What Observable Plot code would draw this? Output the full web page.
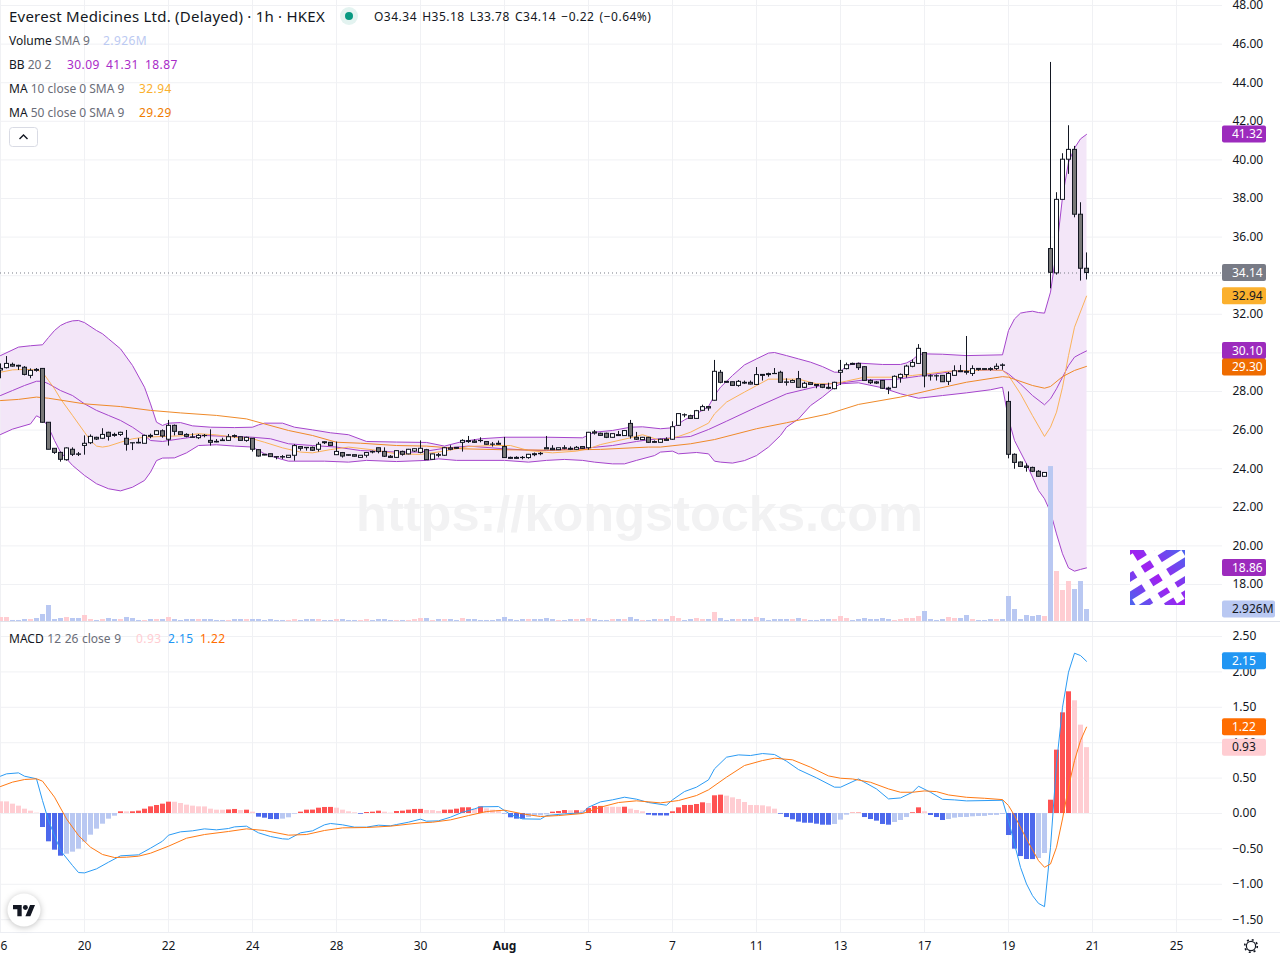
<!DOCTYPE html>
<html><head><meta charset="utf-8">
<script src="https://cdn.jsdelivr.net/npm/d3@7"></script>
<script src="https://cdn.jsdelivr.net/npm/@observablehq/plot@0.6"></script>
<style>
html,body{margin:0;padding:0;background:#fff}
#chart{position:relative;width:1280px;height:960px;overflow:hidden;font-family:"Noto Sans",sans-serif;color:#131722}
#chart>svg,#chart>figure{position:absolute;left:0}
.lg{position:absolute;white-space:nowrap;font-size:12px;line-height:16px;color:#131722}
.lg i{font-style:normal;color:#6a6d78}
.lg b{font-weight:400;position:absolute;top:0;letter-spacing:.4px}
</style></head><body><div id="chart"></div>
<script>
const opens=[29.09,29.21,29.38,29.33,29.23,28.81,29.12,29.17,26.38,25.03,
24.82,24.44,24.98,24.74,25.18,25.32,25.60,25.55,25.86,25.75,
25.75,25.55,25.32,25.34,25.29,25.70,25.75,25.94,25.50,26.22,
25.89,25.75,25.62,25.58,25.70,25.44,25.39,25.46,25.44,25.69,
25.63,25.44,25.55,24.96,24.72,24.75,24.60,24.60,24.56,24.67,
25.12,25.08,25.08,24.98,25.37,25.34,24.70,24.81,24.70,24.70,
24.56,24.67,24.87,25.06,24.87,24.62,24.56,24.87,24.74,24.89,
24.82,24.96,24.46,24.70,24.67,25.05,25.08,25.34,25.43,25.41,
25.44,25.38,25.25,25.29,25.12,24.56,24.56,24.56,24.55,24.75,
24.77,25.06,25.03,24.96,25.06,25.03,24.98,25.12,25.06,25.88,
25.81,25.81,25.60,25.74,25.69,26.32,25.60,25.48,25.60,25.38,
25.34,25.50,25.50,26.22,26.77,26.72,26.58,27.00,27.19,27.52,
28.97,28.50,28.48,28.29,28.45,28.45,28.34,28.86,28.90,28.91,
28.97,28.47,28.45,28.64,28.19,28.43,28.34,28.34,28.19,28.12,
28.97,29.16,29.43,29.43,29.26,28.55,28.47,28.55,28.15,28.19,
28.69,28.85,29.28,29.43,29.99,28.79,28.79,28.81,28.50,28.81,
29.05,29.02,28.91,29.17,29.16,29.16,29.17,29.35,27.46,24.72,
24.32,24.11,24.04,23.84,23.58,35.38,34.12,37.93,40.01,40.52,
37.16,34.36];
const highs=[29.43,29.81,29.47,29.36,29.29,29.17,29.19,29.17,26.38,25.03,
24.86,25.08,25.08,24.84,25.70,25.75,25.63,26.07,25.89,25.84,
25.89,25.98,25.32,25.55,25.74,25.79,25.98,26.01,26.50,26.26,
25.89,25.81,25.81,25.77,25.77,26.01,25.51,25.58,25.77,25.75,
25.63,25.63,25.55,24.98,24.72,24.75,24.60,24.68,24.67,25.24,
25.13,25.08,25.12,25.36,25.39,25.34,25.38,24.84,24.70,24.70,
24.67,24.84,24.91,25.06,25.08,24.68,24.93,24.91,25.00,25.03,
25.44,25.00,24.75,24.79,25.10,25.19,25.08,25.50,25.67,25.50,
25.60,25.39,25.36,25.43,25.62,24.60,24.62,24.63,24.74,24.81,
24.84,25.67,25.19,25.06,25.19,25.13,25.15,25.12,25.88,25.98,
25.84,25.84,25.79,25.93,25.98,26.50,25.88,25.62,25.62,25.44,
25.53,25.60,26.43,26.84,26.84,26.77,27.02,27.29,27.22,29.61,
29.09,28.52,28.48,28.57,28.54,28.54,29.24,28.86,28.95,29.19,
29.05,28.66,28.60,29.04,28.48,28.45,28.34,28.34,28.43,28.48,
29.61,29.47,29.47,29.47,29.29,28.60,28.52,28.57,28.22,28.81,
28.91,29.36,29.64,30.43,29.99,28.86,28.86,28.81,28.98,29.33,
29.35,30.85,29.33,29.17,29.16,29.23,29.43,29.43,27.98,24.77,
24.35,24.25,24.08,23.90,23.80,45.05,38.30,40.32,41.77,40.70,
37.78,35.18];
const lows=[28.66,29.17,29.26,29.09,28.81,28.66,29.00,26.36,24.98,24.74,
24.34,24.39,24.63,24.63,24.70,25.25,25.46,25.51,25.43,25.63,
25.67,24.91,24.94,25.29,25.29,25.55,25.72,25.58,25.17,25.70,
25.72,25.60,25.60,25.51,25.60,25.17,25.34,25.41,25.41,25.58,
25.43,25.37,24.86,24.60,24.67,24.58,24.46,24.48,24.55,24.39,
24.91,24.91,24.89,24.86,25.25,25.15,24.68,24.55,24.65,24.60,
24.55,24.55,24.77,24.77,24.58,24.55,24.53,24.65,24.72,24.84,
24.77,24.43,24.43,24.56,24.63,24.93,25.01,24.86,25.31,25.31,
25.34,25.22,25.12,25.22,24.53,24.49,24.49,24.46,24.49,24.62,
24.67,25.00,24.94,24.94,24.98,24.94,24.94,25.00,24.96,25.74,
25.67,25.56,25.58,25.67,25.67,25.53,25.46,25.46,25.31,25.32,
25.32,25.41,25.46,26.19,26.64,26.57,26.57,26.96,26.98,27.50,
28.40,28.43,28.28,28.22,28.36,28.34,28.31,28.54,28.74,28.90,
28.43,28.28,28.43,28.17,28.15,28.33,28.14,28.15,28.09,28.09,
28.31,29.12,29.36,29.09,28.54,28.36,28.36,28.12,27.84,28.17,
28.43,28.69,29.23,29.42,28.19,28.54,28.54,28.47,28.31,28.78,
28.98,28.85,28.78,29.05,29.10,29.05,29.09,29.10,24.51,23.97,
24.06,23.82,23.80,23.56,23.56,33.32,34.03,37.92,39.25,37.00,
33.72,33.78];
const closes=[29.17,29.43,29.29,29.29,28.86,29.07,29.07,26.38,24.98,24.82,
24.46,25.05,24.72,24.72,25.29,25.65,25.51,25.75,25.65,25.70,
25.86,25.24,25.31,25.31,25.70,25.65,25.94,25.67,26.22,25.91,
25.75,25.65,25.60,25.70,25.69,25.34,25.36,25.43,25.63,25.65,
25.44,25.60,24.98,24.63,24.68,24.60,24.58,24.58,24.67,25.17,
25.03,25.06,24.93,25.24,25.32,25.18,24.87,24.63,24.67,24.62,
24.67,24.81,24.84,24.86,24.62,24.56,24.91,24.72,24.98,25.01,
25.03,24.44,24.74,24.67,25.06,24.98,25.03,25.44,25.38,25.34,
25.43,25.24,25.24,25.24,24.55,24.51,24.51,24.55,24.72,24.70,
24.75,25.00,24.96,25.06,25.03,24.98,25.08,25.03,25.86,25.82,
25.70,25.60,25.79,25.69,25.95,25.67,25.50,25.60,25.34,25.34,
25.50,25.44,26.15,26.83,26.76,26.58,26.98,27.19,27.12,29.02,
28.45,28.45,28.29,28.50,28.41,28.36,28.85,28.81,28.85,28.90,
28.45,28.45,28.54,28.19,28.40,28.34,28.29,28.19,28.14,28.45,
29.07,29.36,29.38,29.21,28.55,28.43,28.41,28.14,28.10,28.76,
28.86,29.29,29.48,30.21,28.78,28.78,28.78,28.48,28.91,29.05,
29.00,28.97,29.16,29.12,29.12,29.12,29.28,29.33,24.72,24.30,
24.09,24.04,23.84,23.58,23.78,34.15,37.93,40.01,40.52,37.16,
34.36,34.14];
const volumesM=[.98,.98,.25,.25,.49,.49,.73,1.71,3.9,.49,
.73,.98,.73,.73,1.46,.49,.25,.49,.73,.49,
.49,.98,.73,.25,.25,.49,.49,.49,.98,.49,
.25,.49,.49,.49,.49,.49,.25,.25,.25,.49,
.49,.49,.49,.49,.25,.49,.25,.25,.25,.49,
.25,.49,.49,.49,.25,.25,.49,.49,.25,.25,
.25,.49,.25,.49,.49,.25,.25,.25,.25,.49,
.73,.73,.25,.49,.49,.49,.25,.73,.49,.49,
.25,.25,.25,.49,.98,.49,.25,.49,.49,.49,
.49,.73,.49,.25,.25,.49,.49,.49,.73,.49,
.25,.25,.49,.49,.49,.98,.49,.25,.25,.49,
.49,.49,1.22,.73,.25,.49,.73,.49,.49,2.2,
.73,.25,.49,.49,.49,.49,.98,.73,.25,.49,
.49,.49,.49,.73,.49,.25,.25,.49,.49,.49,
1.22,.73,.25,.49,.73,.49,.49,.73,.49,.25,
.49,.73,.73,1.22,2.44,.49,.25,.49,.98,.73,
.73,1.46,.49,.25,.25,.49,.49,.49,6.1,2.93,
.49,1.46,1.22,1.46,1.22,37.8,12.2,7.56,9.76,7.8,
9.76,2.926];
const macdHist=[.165,.164,.132,.104,.061,.033,.005,-.198,-.4,-.518,
-.603,-.575,-.546,-.504,-.405,-.306,-.221,-.151,-.08,-.038,
.024,.023,.024,.033,.061,.094,.113,.132,.16,.159,
.141,.118,.104,.094,.093,.061,.047,.046,.05,.057,
.042,.047,.019,-.052,-.066,-.085,-.086,-.08,-.061,-.01,
.019,.047,.048,.075,.085,.086,.075,.047,.024,.01,
-.01,.014,.019,.033,.019,.005,.028,.033,.047,.057,
.058,.042,.041,.028,.047,.048,.061,.08,.081,.061,
.094,.066,.047,.042,-.005,-.061,-.08,-.081,-.057,-.038,
-.033,-.019,.019,.028,.042,.038,.04,.039,.071,.099,
.1,.089,.088,.087,.089,.061,.042,.024,-.024,-.033,
-.034,-.035,.024,.08,.113,.114,.127,.151,.141,.25,
.259,.245,.221,.198,.155,.113,.112,.108,.094,.061,
-.01,-.057,-.089,-.122,-.137,-.138,-.151,-.165,-.166,-.155,
-.094,-.024,.005,.006,-.057,-.085,-.108,-.155,-.165,-.127,
-.099,-.057,.01,.08,.024,-.028,-.057,-.099,-.085,-.066,
-.057,-.056,-.047,-.042,-.041,-.028,-.027,-.014,-.311,-.504,
-.608,-.65,-.651,-.636,-.565,.188,.895,1.422,1.719,1.592,
1.248,.93];
const bbUpper=[[0,29.86],[3,30.30],[5,30.37],[7,30.42],[8,30.8],[9,31.16],[10,31.42],[11,31.57],[12,31.66],[13,31.68],[14,31.57],[16,31.16],[17,30.99],[18,30.73],[20,30.21],[22,29.35],[24,28.22],[25,27.36],[26,26.41],[27,26.24],[28,26.36],[30,26.39],[32,26.22],[35,26.15],[39,26.13],[42,26.15],[43,26.27],[44,26.36],[47,26.36],[49,26.15],[52,26.01],[55,25.86],[58,25.76],[61,25.41],[66,25.38],[71,25.36],[74,25.17],[77,25.41],[80,25.55],[84,25.63],[91,25.63],[97,25.60],[99,25.89],[102,25.98],[105,26.15],[107,26.17],[110,26.07],[112,26.12],[114,26.53],[116,26.84],[118,27.22],[119,27.79],[120,28.22],[122,28.83],[124,29.38],[126,29.69],[128,29.99],[129,30.02],[131,29.86],[133,29.69],[135,29.52],[137,29.29],[139,29.00],[140,29.00],[141,29.35],[143,29.47],[147,29.40],[150,29.40],[151,29.48],[152,29.64],[153,29.92],[154,29.95],[157,29.93],[161,29.86],[167,29.90],[168,31.16],[169,31.76],[170,32.06],[171,32.12],[172,32.16],[173,32.09],[174,32.06],[175,33.15],[176,35.31],[177,38.07],[178,39.88],[179,40.61],[180,41.09],[181,41.32]];
const bbLower=[[0,25.77],[2,26.05],[5,26.32],[6,26.74],[7,26.58],[8,26.15],[9,25.46],[10,24.86],[12,24.17],[14,23.65],[16,23.22],[18,22.96],[20,22.85],[22,23.04],[24,23.39],[25,23.82],[26,24.42],[27,24.55],[29,24.56],[31,24.82],[33,25.20],[36,25.24],[39,25.17],[42,25.12],[44,24.77],[46,24.56],[48,24.39],[54,24.39],[58,24.34],[61,24.43],[66,24.37],[71,24.43],[73,24.51],[76,24.43],[84,24.43],[88,24.34],[91,24.43],[94,24.48],[97,24.43],[99,24.34],[102,24.25],[104,24.25],[106,24.43],[109,24.68],[110,24.86],[112,24.91],[113,24.77],[116,24.84],[118,24.77],[119,24.39],[120,24.34],[122,24.29],[124,24.42],[126,24.68],[128,25.12],[130,25.72],[131,26.15],[133,26.58],[135,27.27],[137,27.71],[139,28.22],[140,28.40],[143,28.45],[147,28.19],[150,27.88],[153,27.65],[157,27.79],[161,27.93],[165,28.09],[167,28.22],[168,26.58],[169,25.46],[171,24.25],[173,22.87],[174,22.44],[175,21.75],[176,20.62],[177,19.59],[178,18.86],[179,18.69],[180,18.78],[181,18.86]];
const bbBasis=[[0,27.79],[2,28.05],[4,28.31],[6,28.53],[7,28.53],[8,28.40],[10,28.05],[12,27.79],[14,27.36],[16,27.02],[18,26.76],[20,26.50],[22,26.15],[24,25.72],[25,25.46],[27,25.41],[30,25.55],[34,25.72],[38,25.67],[42,25.63],[45,25.55],[48,25.29],[52,25.20],[56,25.12],[60,24.94],[66,24.86],[70,24.86],[74,25.06],[78,25.17],[84,25.03],[88,24.96],[91,24.94],[97,25.05],[102,25.20],[106,25.41],[108,25.50],[110,25.55],[115,25.67],[118,26.03],[121,26.46],[126,27.19],[131,27.88],[138,28.40],[141,28.48],[144,28.60],[149,28.62],[153,28.79],[159,29.05],[165,29.12],[167,29.09],[168,28.91],[170,28.39],[172,27.79],[174,27.31],[175,27.62],[176,28.14],[177,28.74],[178,29.34],[179,29.78],[180,29.95],[181,30.10]];
const ma10=[[0,29.00],[2,29.12],[4,29.14],[6,29.12],[7,29.00],[8,28.57],[9,28.14],[10,27.62],[12,26.76],[14,25.89],[15,25.46],[16,25.17],[17,25.12],[18,25.17],[20,25.37],[22,25.55],[24,25.63],[27,25.67],[30,25.70],[33,25.81],[36,25.75],[39,25.63],[42,25.55],[44,25.37],[47,25.08],[50,24.86],[52,24.82],[55,24.99],[58,25.12],[62,24.98],[66,24.77],[70,24.74],[74,24.91],[78,25.15],[82,25.20],[85,25.20],[88,24.94],[92,24.82],[96,24.91],[98,25.03],[100,25.25],[105,25.60],[107,25.76],[110,25.46],[113,25.67],[115,25.89],[118,26.36],[119,26.84],[121,27.45],[124,27.97],[128,28.64],[133,28.64],[136,28.40],[139,28.40],[141,28.54],[144,28.74],[149,28.74],[152,28.83],[158,29.05],[165,29.12],[167,29.09],[168,28.83],[170,27.88],[172,26.75],[174,25.67],[175,26.15],[176,26.93],[177,28.22],[178,29.86],[179,31.33],[181,32.94]];
const ma50=[[0,27.53],[3,27.59],[6,27.71],[8,27.65],[14,27.36],[20,27.22],[25,27.02],[30,26.89],[36,26.76],[41,26.58],[44,26.32],[48,25.98],[52,25.72],[56,25.37],[60,25.32],[66,25.20],[71,25.17],[77,25.03],[84,24.98],[92,24.96],[100,25.00],[108,25.12],[110,25.12],[115,25.29],[119,25.51],[126,26.07],[131,26.38],[138,26.84],[143,27.33],[150,27.71],[156,28.14],[161,28.48],[167,28.77],[168,28.74],[172,28.31],[174,28.17],[175,28.26],[177,28.77],[179,29.09],[181,29.30]];
const macdLine=[[0,.527],[1,.56],[3,.574],[4,.527],[6,.49],[7,.183],[8,-.099],[10,-.523],[12,-.735],[13,-.834],[14,-.839],[16,-.782],[18,-.688],[20,-.598],[23,-.584],[25,-.49],[27,-.391],[28,-.306],[30,-.259],[32,-.245],[34,-.217],[36,-.231],[38,-.212],[39,-.189],[41,-.179],[43,-.273],[45,-.325],[47,-.358],[48,-.363],[50,-.273],[52,-.245],[54,-.16],[55,-.141],[57,-.16],[59,-.193],[61,-.193],[63,-.165],[65,-.174],[66,-.156],[68,-.123],[70,-.08],[71,-.109],[73,-.104],[75,-.052],[77,.018],[79,.065],[80,.094],[83,.098],[85,-.015],[87,-.076],[90,-.08],[91,-.029],[94,-.005],[97,.009],[98,.089],[100,.164],[102,.193],[104,.23],[106,.202],[108,.155],[111,.117],[112,.193],[114,.31],[116,.372],[118,.475],[119,.631],[121,.795],[123,.828],[125,.819],[127,.847],[129,.833],[131,.739],[133,.621],[136,.503],[139,.372],[140,.371],[143,.488],[146,.347],[148,.206],[150,.22],[152,.3],[153,.385],[155,.3],[157,.201],[159,.192],[161,.178],[167,.187],[168,-.1],[169,-.43],[170,-.76],[171,-.995],[172,-1.16],[173,-1.27],[174,-1.316],[175,-.477],[176,.70],[177,1.50],[178,1.996],[179,2.264],[180,2.231],[181,2.15]];
const macdSignal=[[0,.381],[2,.443],[4,.48],[6,.49],[7,.457],[9,.231],[11,-.076],[13,-.311],[15,-.476],[17,-.579],[19,-.622],[21,-.617],[23,-.603],[25,-.561],[28,-.462],[31,-.349],[34,-.297],[38,-.254],[41,-.217],[44,-.24],[48,-.306],[51,-.297],[54,-.24],[57,-.203],[61,-.198],[65,-.179],[70,-.132],[72,-.123],[75,-.09],[78,-.029],[81,.028],[84,.047],[87,-.005],[90,-.043],[93,-.029],[97,0],[100,.089],[103,.155],[106,.179],[110,.15],[113,.183],[116,.254],[118,.334],[121,.513],[124,.678],[127,.748],[129,.781],[132,.758],[135,.654],[138,.531],[140,.498],[142,.488],[145,.441],[148,.347],[150,.3],[152,.3],[154,.319],[156,.309],[158,.262],[161,.229],[164,.215],[167,.196],[168,.112],[169,-.03],[171,-.36],[173,-.666],[174,-.76],[175,-.713],[176,-.477],[177,-.077],[178,.371],[179,.747],[180,1.03],[181,1.22]];
const priceTicks=[48,46,44,42,40,38,36,34,32,30,28,26,24,22,20,18];
const macdTicks=[2.5,2,1.5,1,.5,0,-.5,-1,-1.5];
const dayTicks=[0,14,28,42,56,70,84,98,112,126,140,154,168,182,196];
const dayLabels=["16","20","22","24","28","30","Aug","5","7","11","13","17","19","21","25"];
const monthTicks=[84];
const priceTags=[["41.32",41.32,"#9c2bbd","#fff",0],["34.14",34.14,"#787b86","#fff",0],["32.94",32.94,"#fbb02d","#131722",0],["30.10",30.10,"#9c2bbd","#fff",0],["29.30",29.30,"#ef6c00","#fff",1],["18.86",18.86,"#9c2bbd","#fff",0]];
const volumeTags=[["2.926M",2.926,"#b9c8f2","#131722",0,53]];
const macdTags=[["2.15",2.15,"#2196f3","#fff",0],["1.22",1.22,"#ff6d00","#fff",0],["0.93",.93,"#ffcdd2","#131722",0]];

const FONT='"Noto Sans",sans-serif', GRID="#f0f1f4", BLACK="#131722";
const candles=opens.map((o,i)=>({i,o,h:highs[i],l:lows[i],c:closes[i],v:volumesM[i],up:closes[i]>=o}));
const hist=macdHist.map((v,i)=>({i,v,rise:i>0&&v>macdHist[i-1]}));
const W=1280,MR=58,xDom=[0,(W-MR)/6];
const pt=([i,v])=>({i,v});
const tagMark=tags=>(index,scales,channels,dims)=>{
  const g=d3.create("svg:g"),x0=dims.width-dims.marginRight;
  for(const [label,val,bg,fg,dy,w] of tags){
    const y=scales.y(val)+dy;
    g.append("rect").attr("x",x0).attr("y",y-8.5).attr("width",w||44).attr("height",17).attr("rx",2).attr("fill",bg);
    g.append("text").attr("x",x0+10).attr("y",y+4.3).attr("text-anchor","start").attr("fill",fg).attr("font-size",12).attr("font-family",FONT).text(label);
  }
  return g.node();
};
const common={width:W,marginLeft:0,marginRight:MR,marginTop:0,x:{domain:xDom,axis:null},style:{fontFamily:FONT,fontSize:"12px",color:BLACK,background:"transparent",overflow:"hidden"}};
const axisCommon={anchor:"right",tickSize:0,tickPadding:10,label:null,fontSize:12};

const outline=[...bbUpper,...bbLower.slice().reverse()].map(pt);
const price=Plot.plot({...common,height:622,marginBottom:0,
  y:{domain:[16.03,48.26],axis:null},
  marks:[
    Plot.gridY(priceTicks,{stroke:GRID,strokeOpacity:1}),
    Plot.gridX(dayTicks,{stroke:GRID,strokeOpacity:1}),
    Plot.text(["https://kongstocks.com"],{x:[106.5],y:[21.62],text:d=>d,fontSize:50.5,fontWeight:700,fontFamily:"Liberation Sans",fill:"#f2f2f3"}),
    Plot.line(outline,{x:"i",y:"v",fill:"#f3e6f8",stroke:"none"}),
    Plot.line(bbUpper.map(pt),{x:"i",y:"v",stroke:"#a545cc",strokeWidth:1}),
    Plot.line(bbLower.map(pt),{x:"i",y:"v",stroke:"#a545cc",strokeWidth:1}),
    Plot.line(bbBasis.map(pt),{x:"i",y:"v",stroke:"#a545cc",strokeWidth:1}),
    Plot.line(ma10.map(pt),{x:"i",y:"v",stroke:"#fbb35a",strokeWidth:1}),
    Plot.line(ma50.map(pt),{x:"i",y:"v",stroke:"#ef8a2a",strokeWidth:1}),
    Plot.ruleY([closes[closes.length-1]],{stroke:"#787b86",strokeDasharray:"1 3",strokeWidth:1}),
    Plot.ruleX(candles,{x:"i",y1:"l",y2:"h",stroke:BLACK,strokeWidth:1}),
    Plot.rect(candles,{x1:d=>d.i-.25,x2:d=>d.i+.4167,y1:"o",y2:"c",fill:d=>d.up?"#fff":"#787878",stroke:BLACK,strokeWidth:1}),
    Plot.axisY(priceTicks,{...axisCommon,tickFormat:".2f"}),
    tagMark(priceTags)
  ]});
price.style.top="0";
const volume=Plot.plot({...common,height:621,marginBottom:0,
  y:{domain:[0,151.5],axis:null},
  marks:[
    Plot.rectY(candles,{x1:d=>d.i-.333,x2:d=>d.i+.5,y1:0,y2:"v",fill:d=>d.up?"#ffcdd2":"#b9c8f2"}),
    tagMark(volumeTags)
  ]});
volume.style.top="0";
const histColor=d=>d.v>=0?(d.rise?"#ff5252":"#ffcdd2"):(d.rise?"#b9c8f2":"#4c68ec");
const labelOf=d=>dayLabels[dayTicks.indexOf(d)];
const macd=Plot.plot({...common,height:338,marginBottom:28,
  y:{domain:[-1.681,2.698],axis:null},
  marks:[
    Plot.gridY(macdTicks,{stroke:GRID,strokeOpacity:1}),
    Plot.gridX(dayTicks,{stroke:GRID,strokeOpacity:1}),
    Plot.rectY(hist,{x1:d=>d.i-.333,x2:d=>d.i+.5,y1:0,y2:"v",fill:histColor}),
    Plot.line(macdLine.map(pt),{x:"i",y:"v",stroke:"#2b9bf4",strokeWidth:1}),
    Plot.line(macdSignal.map(pt),{x:"i",y:"v",stroke:"#ff7a14",strokeWidth:1}),
    Plot.axisY(macdTicks,{...axisCommon,tickFormat:".2f"}),
    Plot.axisX(dayTicks.filter(d=>!monthTicks.includes(d)),{anchor:"bottom",tickSize:0,tickPadding:9,label:null,fontSize:12,tickFormat:labelOf}),
    Plot.axisX(monthTicks,{anchor:"bottom",tickSize:0,tickPadding:9,label:null,fontSize:12,fontWeight:700,tickFormat:labelOf}),
    tagMark(macdTags)
  ]});
macd.style.top="622px";

const root=document.getElementById("chart");
root.append(price,volume,macd);
const add=(html)=>{const t=document.createElement("template");t.innerHTML=html.trim();root.append(t.content.firstChild);};
add(`<div style="position:absolute;left:0;top:621px;width:1280px;height:1px;background:#e0e3eb"></div>`);
add(`<div style="position:absolute;left:0;top:932px;width:1280px;height:1px;background:#eceef3"></div>`);
add(`<div class="lg" style="left:9px;top:7px;font-size:15px;line-height:18px;letter-spacing:.23px">Everest Medicines Ltd. (Delayed) · 1h · HKEX</div>`);
add(`<svg style="left:338px;top:5px" width="22" height="22"><circle cx="11" cy="11" r="9" fill="#e3f3f0"/><circle cx="11" cy="11" r="4" fill="#089981"/></svg>`);
add(`<div class="lg" style="left:374px;top:9px;letter-spacing:.5px;word-spacing:1.5px">O34.34 H35.18 L33.78 C34.14 −0.22 (−0.64%)</div>`);
add(`<div class="lg" style="left:9px;top:33px">Volume <i>SMA 9</i><b style="left:94px;color:#bccaf2">2.926M</b></div>`);
add(`<div class="lg" style="left:9px;top:57px">BB <i>20 2</i><b style="left:58px;color:#a92bc8">30.09</b><b style="left:97px;color:#a92bc8">41.31</b><b style="left:136px;color:#a92bc8">18.87</b></div>`);
add(`<div class="lg" style="left:9px;top:81px">MA <i>10 close 0 SMA 9</i><b style="left:130px;color:#fbb02d">32.94</b></div>`);
add(`<div class="lg" style="left:9px;top:105px">MA <i>50 close 0 SMA 9</i><b style="left:130px;color:#ef7c00">29.29</b></div>`);
add(`<div class="lg" style="left:9px;top:631px;word-spacing:.5px">MACD <i>12 26 close 9</i><b style="left:127px;color:#ffcdd2">0.93</b><b style="left:159px;color:#2196f3">2.15</b><b style="left:191px;color:#ff6d00">1.22</b></div>`);
add(`<svg style="left:9px;top:127px" width="30" height="20"><rect x=".5" y=".5" width="28" height="19" rx="3" fill="#fff" stroke="#d9dbe4"/><path d="M10.5 12 L14.5 8 L18.5 12" fill="none" stroke="#131722" stroke-width="1.4"/></svg>`);
add(`<svg style="left:0;top:885px;filter:drop-shadow(0 1px 3px rgba(0,0,0,.25))" width="48" height="48"><circle cx="24" cy="25" r="16.5" fill="#fff"/><g transform="translate(13,17.5) scale(.62)" fill="#131722"><path d="M14 22H7V11H0V4h14v18zM28 22h-8l7.5-18h8L28 22z"/><circle cx="20" cy="8" r="4"/></g></svg>`);
add(`<svg style="left:1242px;top:937px" width="18" height="18"><circle cx="9" cy="9" r="4.6" fill="none" stroke="#131722" stroke-width="1.2"/><circle cx="9" cy="9" r="6.3" fill="none" stroke="#131722" stroke-width="1.6" stroke-dasharray="2 2.95"/></svg>`);
add(`<svg style="left:1130px;top:550px" width="55" height="55" viewBox="0 0 55 55"><defs><linearGradient id="lg" x1="0" y1="1" x2="1" y2="0"><stop offset="0" stop-color="#4a66ee"/><stop offset=".5" stop-color="#a020f0"/><stop offset="1" stop-color="#4a66ee"/></linearGradient></defs><rect width="55" height="55" fill="url(#lg)"/><g fill="#fff" transform="rotate(-32 27 27)"><rect x="-6" y="3" width="68" height="6"/><rect x="-6" y="17" width="68" height="8"/><rect x="-6" y="33" width="68" height="8"/><rect x="-6" y="47" width="68" height="6"/><rect x="10" y="-6" width="9" height="66"/><rect x="30" y="-6" width="9" height="66"/></g></svg>`);
</script></body></html>
